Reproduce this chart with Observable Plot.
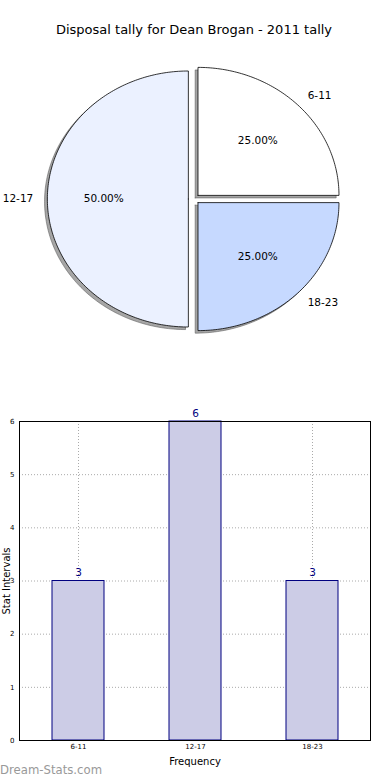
<!DOCTYPE html>
<html>
<head>
<meta charset="utf-8">
<script src="https://cdn.jsdelivr.net/npm/d3@7"></script>
<script src="https://cdn.jsdelivr.net/npm/@observablehq/plot@0.6"></script>
<style>
  html, body { margin: 0; padding: 0; background: #fff; }
  body { width: 390px; height: 780px; position: relative; overflow: hidden; font-family: "DejaVu Sans", sans-serif; }
  #title { position: absolute; left: 0; top: 21px; width: 388px; text-align: center; font-size: 13px; line-height: 18px; color: #000; }
  #pie { position: absolute; left: 0; top: 60px; }
  #bar { position: absolute; left: 0; top: 400px; }
  #wm { position: absolute; left: 0; top: 762px; font-size: 11.7px; color: #999; line-height: 16px; }
</style>
</head>
<body>
<div id="title">Disposal tally for Dean Brogan - 2011 tally</div>
<div id="pie"></div>
<div id="bar"></div>
<div id="wm">Dream-Stats.com</div>
<script>
// ---- data ----
const categories = ["6-11", "12-17", "18-23"];
const counts = [3, 6, 3];
const sliceColors = ["#ffffff", "#ebf1ff", "#c6d9ff"];
const yTicks = [0, 1, 2, 3, 4, 5, 6];

// ---- pie ----
const total = d3.sum(counts);
const explode = 0.04;
let start = 0; // degrees, counterclockwise from east
const slices = categories.map((c, i) => {
  const sweep = counts[i] / total * 360;
  const a0 = start, a1 = start + sweep;
  start = a1;
  const mid = (a0 + a1) / 2 * Math.PI / 180;
  const ox = explode * Math.cos(mid), oy = explode * Math.sin(mid);
  const pts = [{x: ox, y: oy}];
  const n = Math.max(8, Math.round(sweep));
  for (let k = 0; k <= n; k++) {
    const a = (a0 + (a1 - a0) * k / n) * Math.PI / 180;
    pts.push({x: ox + Math.cos(a), y: oy + Math.sin(a)});
  }
  pts.push({x: ox, y: oy});
  return {cat: c, pct: counts[i] / total * 100, mid, ox, oy, pts, color: sliceColors[i]};
});

const shadowDx = -0.02, shadowDy = -0.02;
const pieMarks = [];
slices.forEach(s => {
  pieMarks.push(Plot.line(s.pts, {x: d => d.x + shadowDx, y: d => d.y + shadowDy, fill: "#4d4d4d", fillOpacity: 0.5, stroke: "#4d4d4d", strokeOpacity: 0.5, strokeWidth: 1}));
});
slices.forEach(s => {
  pieMarks.push(Plot.line(s.pts, {x: "x", y: "y", fill: s.color, stroke: "#000", strokeWidth: 0.8}));
});
const labelData = slices.map(s => ({
  cat: s.cat,
  lx: s.ox + 1.1 * Math.cos(s.mid), ly: s.oy + 1.1 * Math.sin(s.mid),
  px: s.ox + 0.6 * Math.cos(s.mid), py: s.oy + 0.6 * Math.sin(s.mid),
  pct: s.pct.toFixed(2) + "%",
  anchor: Math.cos(s.mid) >= 0 ? "start" : "end"
}));
pieMarks.push(Plot.text(labelData.filter(d => d.anchor === "start"), {x: "lx", y: "ly", text: "cat", textAnchor: "start", fontSize: 10.5, fill: "#000"}));
pieMarks.push(Plot.text(labelData.filter(d => d.anchor === "end"), {x: "lx", y: "ly", text: "cat", textAnchor: "end", fontSize: 10.5, fill: "#000"}));
pieMarks.push(Plot.text(labelData, {x: "px", y: "py", text: "pct", textAnchor: "middle", fontSize: 10.5, fill: "#000"}));

const cx = 193.5, cy = 138.5, rx = 141, ry = 128;
const pie = Plot.plot({
  width: 390, height: 340,
  margin: 0,
  style: {fontFamily: "DejaVu Sans, sans-serif", background: "transparent", overflow: "visible"},
  x: {domain: [-1, 1], range: [cx - rx, cx + rx], axis: null},
  y: {domain: [-1, 1], range: [cy + ry, cy - ry], axis: null},
  marks: pieMarks
});
document.getElementById("pie").appendChild(pie);

// ---- bar ----
const barData = categories.map((c, i) => ({cat: c, value: counts[i]}));
const bar = Plot.plot({
  width: 390, height: 380,
  marginTop: 21, marginBottom: 40, marginLeft: 19, marginRight: 20,
  style: {fontFamily: "DejaVu Sans, sans-serif", background: "transparent", overflow: "visible"},
  x: {domain: categories, paddingInner: 0.556, paddingOuter: 0.278, label: null},
  y: {domain: [0, 6], label: null},
  marks: [
    Plot.gridY(yTicks, {stroke: "#aaa", strokeOpacity: 1, strokeDasharray: "1,2", strokeWidth: 1}),
    Plot.gridX(categories, {stroke: "#aaa", strokeOpacity: 1, strokeDasharray: "1,2", strokeWidth: 1}),
    Plot.barY(barData, {x: "cat", y: "value", fill: "#cccce6", stroke: "#000080", strokeWidth: 1}),
    Plot.text(barData, {x: "cat", y: "value", text: d => String(d.value), dy: -8, fontSize: 10.5, fill: "#000080"}),
    Plot.axisY(yTicks, {tickSize: 0, tickPadding: 5, fontSize: 7, label: null, tickFormat: d3.format("d")}),
    Plot.axisX(categories, {tickSize: 0, tickPadding: 4, fontSize: 7, label: null}),
    Plot.text(["Stat Intervals"], {frameAnchor: "left", dx: -13, rotate: -90, textAnchor: "middle", lineAnchor: "middle", fontSize: 10, fill: "#000", text: d => d}),
    Plot.text(["Frequency"], {frameAnchor: "bottom", dy: 21, textAnchor: "middle", lineAnchor: "middle", fontSize: 10, fill: "#000", text: d => d}),
    Plot.frame({stroke: "#000", strokeWidth: 1})
  ]
});
document.getElementById("bar").appendChild(bar);
</script>
</body>
</html>
